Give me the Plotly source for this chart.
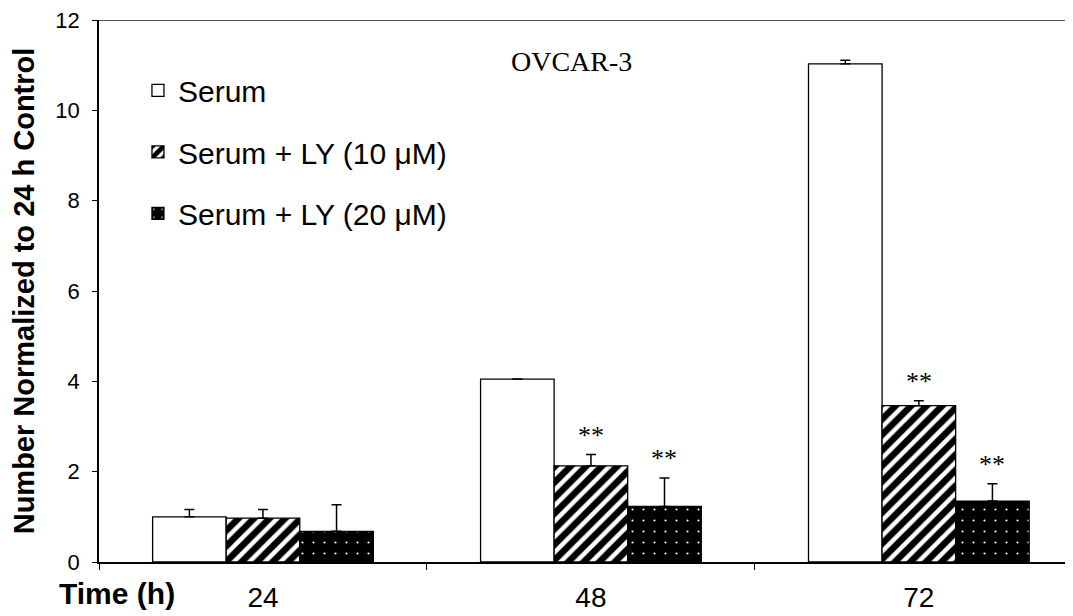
import plotly.graph_objects as go

# ---- data ----
times = ["24", "48", "72"]
series_names = ["Serum", "Serum + LY (10 μM)", "Serum + LY (20 μM)"]
serum = [1.00, 4.05, 11.03]
serum_err = [0.16, 0.0, 0.08]
ly10 = [0.97, 2.13, 3.46]
ly10_err = [0.19, 0.25, 0.11]
ly20 = [0.68, 1.23, 1.35]
ly20_err = [0.59, 0.63, 0.38]
ly10_sig = ["", "**", "**"]
ly20_sig = ["", "**", "**"]
y_ticks = [0, 2, 4, 6, 8, 10, 12]

SANS = "Liberation Sans, Arial, sans-serif"
SERIF = "Liberation Serif, Times New Roman, serif"

fig = go.Figure()

styles = [
    dict(color="white", pattern=None),
    dict(color="white", pattern=dict(shape="/", fgcolor="black", bgcolor="white", size=11,
                                     solidity=0.6, fgopacity=1)),
    dict(color="black", pattern=dict(shape=".", fgcolor="white", bgcolor="black", size=11,
                                     solidity=0.03, fgopacity=1)),
]
vals = [serum, ly10, ly20]
errs = [serum_err, ly10_err, ly20_err]

for i, (name, v, e, st) in enumerate(zip(series_names, vals, errs, styles)):
    marker = dict(color=st["color"], line=dict(color="black", width=1.3))
    if st["pattern"] is not None:
        marker["pattern"] = st["pattern"]
    fig.add_trace(go.Bar(
        x=times, y=v, name=name, marker=marker,
        legendgroup=f"g{i}",
        error_y=dict(type="data", array=e, arrayminus=[0] * len(e), symmetric=False,
                     color="black", thickness=1.5, width=5),
    ))

# significance marks
bar_px = 73.5
for offs, v, e, sig in [(0, ly10, ly10_err, ly10_sig), (1, ly20, ly20_err, ly20_sig)]:
    for idx, (vv, ee, s) in enumerate(zip(v, e, sig)):
        if s:
            fig.add_annotation(x=idx, xref="x", y=vv + ee, yref="y", text=s, showarrow=False,
                               xshift=offs * bar_px, yanchor="bottom", yshift=3,
                               font=dict(family=SERIF, size=26, color="black"))

fig.add_annotation(x=0.485, xref="paper", y=11.08, yref="y", text="OVCAR-3", showarrow=False,
                   font=dict(family=SERIF, size=28, color="black"), yanchor="middle")
fig.add_annotation(x=-0.043, xref="paper", y=-0.058, yref="paper", text="<b>Time (h)</b>",
                   showarrow=False, xanchor="left", yanchor="middle",
                   font=dict(family=SANS, size=30, color="black"))

# top border line
fig.add_shape(type="line", xref="paper", x0=0, x1=1, yref="y", y0=12, y1=12,
              line=dict(color="#555555", width=2))

fig.update_layout(
    width=1065, height=608,
    margin=dict(l=91, r=0, t=7, b=54),
    paper_bgcolor="white", plot_bgcolor="white",
    barmode="group", bargap=0.327, bargroupgap=0,
    showlegend=True,
    legend=dict(x=0.04, xanchor="left", y=0.918, yanchor="top",
                font=dict(family=SANS, size=30, color="black"),
                tracegroupgap=19.5, bgcolor="rgba(0,0,0,0)"),
    font=dict(family=SANS, color="black"),
)
fig.update_xaxes(type="category", range=[-0.5, 2.47], showline=True, linecolor="black", linewidth=2,
                 ticks="outside", tickson="boundaries", ticklen=6, tickcolor="black",
                 tickfont=dict(family=SANS, size=28, color="black"),
                 ticklabelstandoff=9, showgrid=False, zeroline=False)
fig.update_yaxes(range=[0, 12], tickvals=y_ticks, showline=True, linecolor="black", linewidth=1.5,
                 ticks="outside", ticklen=5, tickcolor="black",
                 tickfont=dict(family=SANS, size=22, color="black"),
                 ticklabelstandoff=8, ticklabeloverflow="allow",
                 showgrid=False, zeroline=False,
                 title=dict(text="<b>Number Normalized to 24 h Control</b>", standoff=24,
                            font=dict(family=SANS, size=29, color="black")))

fig.write_html("out.html")
